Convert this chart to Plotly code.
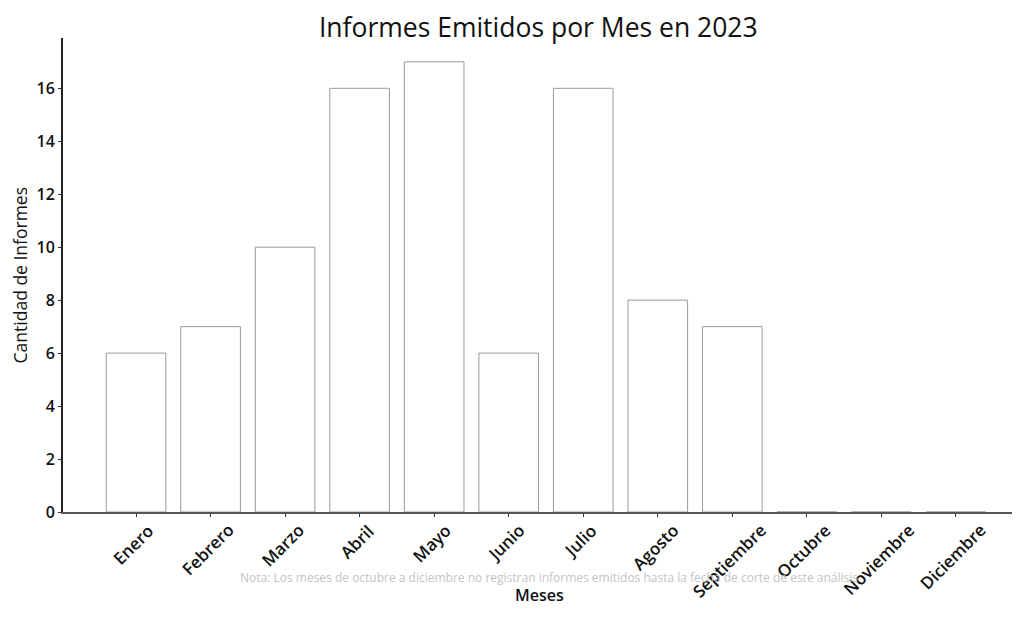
import plotly.graph_objects as go

meses = ["Enero", "Febrero", "Marzo", "Abril", "Mayo", "Junio", "Julio",
         "Agosto", "Septiembre", "Octubre", "Noviembre", "Diciembre"]
informes = [6, 7, 10, 16, 17, 6, 16, 8, 7, 0, 0, 0]
y_ticks = [0, 2, 4, 6, 8, 10, 12, 14, 16]
titulo = "Informes Emitidos por Mes en 2023"
nota = "Nota: Los meses de octubre a diciembre no registran informes emitidos hasta la fecha de corte de este análisis."

pos = list(range(len(meses)))

fig = go.Figure(go.Bar(
    x=pos, y=informes, width=0.8,
    marker=dict(color="white", line=dict(color="#9a9a9a", width=1)),
))

fig.update_layout(
    width=1012, height=621,
    paper_bgcolor="white", plot_bgcolor="white",
    margin=dict(l=55, r=0, t=30, b=117, autoexpand=False),
    showlegend=False,
    title=dict(text=titulo, x=0.524, xanchor="center", y=0.969, yanchor="middle",
               font=dict(family="Open Sans", size=26.5, color="#111")),
    font=dict(family="Open Sans", color="#111"),
)
fig.update_xaxes(
    range=[-0.98, 11.86], tickmode="array", tickvals=pos, showticklabels=False,
    showline=True, linecolor="#555", linewidth=2, showgrid=False, zeroline=False,
    ticks="outside", ticklen=3, tickcolor="#333", automargin=False,
)
fig.update_yaxes(
    range=[0, 17.9], tickvals=y_ticks,
    tickfont=dict(family="Open Sans", size=16, color="#111", weight=600),
    showline=True, linecolor="#222", linewidth=2, showgrid=False, zeroline=False,
    ticks="outside", ticklen=3, tickcolor="#333", automargin=False,
)
for i, m in zip(pos, meses):
    fig.add_annotation(text=m, x=i - 0.04, xref="x", y=-0.009, yref="paper",
                       xanchor="center", yanchor="top", textangle=-45, showarrow=False,
                       font=dict(family="Open Sans", size=17, color="#111", weight=600))
fig.add_annotation(text="Cantidad de Informes", xref="paper", yref="paper",
                   x=-0.0445, xanchor="center", y=0.5, yanchor="middle", textangle=-90,
                   showarrow=False, font=dict(family="Open Sans", size=17.5, color="#111"))
fig.add_annotation(text="Meses", xref="paper", yref="paper", x=0.498, y=-0.176,
                   xanchor="center", yanchor="middle",
                   showarrow=False, font=dict(family="Open Sans", size=16, color="#111", weight=600))
fig.add_annotation(text=nota, xref="paper", yref="paper", x=0.509, y=-0.139,
                   xanchor="center", yanchor="middle",
                   showarrow=False, font=dict(family="Open Sans", size=12, color="#c4c4c4"))

fig.write_html("out.html")
